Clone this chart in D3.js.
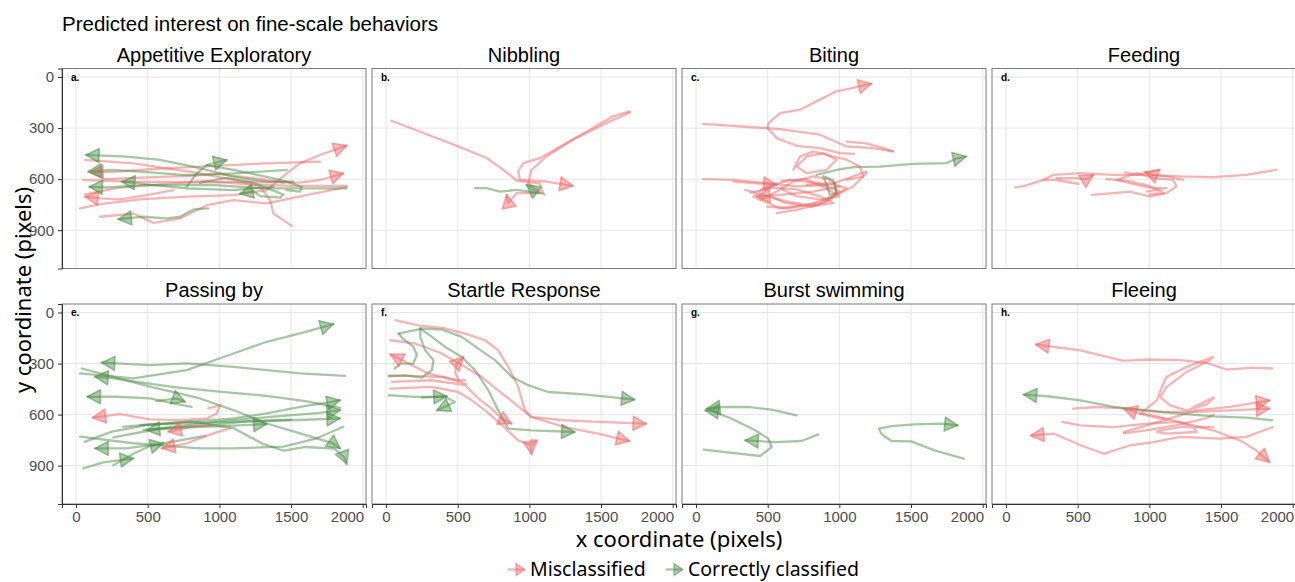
<!DOCTYPE html>
<html>
<head>
<meta charset="utf-8">
<script src="https://cdn.jsdelivr.net/npm/d3@7"></script>
<style>
    body { margin: 0; background: #fff; }
</style>
</head>
<body>
<div id="chart"></div>
<script>
// Facet titles, tags, ticks
const panelTitles = ["Appetitive Exploratory", "Nibbling", "Biting", "Feeding",
    "Passing by", "Startle Response", "Burst swimming", "Fleeing"];
const panelTags = ["a.", "b.", "c.", "d.", "e.", "f.", "g.", "h."];
const xTicks = [0, 500, 1000, 1500, 2000];
const yTicks = [0, 300, 600, 900];
const classes = ["mis", "ok"];
const classLabels = ["Misclassified", "Correctly classified"];

// Tracks: c = classification, a = arrow at end, p = [x, y] in video pixels
const tracksA = [
    {c: "mis", a: 1, p: [[28,772],[167,747],[447,719],[772,703],[1098,694],[1330,664],[1470,566],[1563,507],[1702,458],[1888,403]]},
    {c: "mis", a: 1, p: [[51,605],[400,615],[865,621],[1214,615],[1563,621],[1702,605],[1865,566]]},
    {c: "mis", a: 1, p: [[1702,497],[1330,507],[865,527],[516,542],[284,556],[98,560]]},
    {c: "mis", a: 1, p: [[679,664],[493,694],[307,719],[167,713],[63,703]]},
    {c: "mis", a: 0, p: [[63,487],[400,507],[865,566],[1098,605],[1284,645],[1354,723],[1377,802],[1447,841],[1505,876]]},
    {c: "mis", a: 0, p: [[167,821],[400,802],[540,857],[726,831],[912,753],[1098,723],[1330,743],[1888,645]]},
    {c: "mis", a: 0, p: [[63,690],[300,650],[600,630],[900,610],[1200,630],[1500,640],[1888,640]]},
    {c: "mis", a: 0, p: [[200,600],[500,590],[800,580],[1000,570],[1300,600],[1450,620]]},
    {c: "ok", a: 1, p: [[1516,615],[1330,615],[1098,586],[865,536],[586,487],[353,468],[70,458]]},
    {c: "ok", a: 1, p: [[1470,546],[1098,566],[772,576],[447,556],[237,546],[86,556]]},
    {c: "ok", a: 1, p: [[1377,645],[1098,664],[772,654],[540,635],[400,621],[319,615]]},
    {c: "ok", a: 1, p: [[1888,654],[1563,654],[1284,654],[981,635],[749,635],[470,635],[214,649],[93,645]]},
    {c: "ok", a: 1, p: [[923,772],[819,778],[726,821],[633,831],[470,821],[295,835]]},
    {c: "ok", a: 1, p: [[772,645],[842,566],[912,517],[1051,487]]},
    {c: "ok", a: 1, p: [[865,621],[1051,592],[1237,621],[1354,660],[1447,690],[1423,709],[1284,700],[1237,670],[1144,686]]},
    {c: "ok", a: 0, p: [[912,517],[1098,546],[1330,586],[1470,615],[1574,645],[1563,674],[1470,664]]}
];

const tracksB = [
    {c: "mis", a: 1, p: [[37,257],[216,314],[517,412],[702,476],[818,545],[911,608],[1073,627],[1096,682],[911,682],[853,741],[841,692]]},
    {c: "mis", a: 1, p: [[1699,202],[1583,231],[1444,300],[1258,388],[1073,477],[957,506],[922,555],[934,604],[1119,614],[1304,639]]},
    {c: "mis", a: 0, p: [[1703,208],[1513,280],[1305,369],[1119,467],[1015,545],[992,624],[1073,673],[1107,692]]},
    {c: "ok", a: 1, p: [[621,653],[702,653],[795,673],[911,663],[1073,682],[1030,665],[980,633]]}
];

const tracksC = [
    {c: "mis", a: 1, p: [[1103,451],[1003,447],[864,418],[702,404],[563,359],[498,300],[505,271],[586,212],[725,192],[864,133],[980,84],[1119,59],[1224,39]]},
    {c: "mis", a: 0, p: [[49,275],[586,306],[864,339],[1050,408],[1235,418],[1374,437]]},
    {c: "mis", a: 0, p: [[1050,380],[1189,390],[1305,418],[1374,437]]},
    {c: "mis", a: 0, p: [[49,600],[262,604],[494,624],[702,643],[934,633],[1189,555]]},
    {c: "mis", a: 1, p: [[1003,643],[818,673],[586,692],[424,702]]},
    {c: "mis", a: 1, p: [[262,614],[401,624],[563,633]]},
    {c: "mis", a: 0, p: [[343,663],[586,722],[818,761],[934,722],[1003,673],[864,624],[656,604],[470,653],[401,702],[586,771],[864,741],[1096,643],[1189,565]]},
    {c: "mis", a: 0, p: [[563,800],[702,780],[888,741],[980,682],[957,604],[818,584],[679,614],[563,673],[447,722]]},
    {c: "mis", a: 0, p: [[702,526],[772,467],[888,447],[980,486],[911,545],[772,565],[702,526]]},
    {c: "mis", a: 0, p: [[679,545],[725,467],[818,437],[957,467],[1050,486],[1143,526],[1166,584],[1050,604]]},
    {c: "mis", a: 0, p: [[494,761],[656,771],[818,741],[957,702],[1050,653],[934,624],[772,633]]},
    {c: "mis", a: 0, p: [[380,680],[520,650],[700,660],[860,700],[960,740],[800,760],[620,740],[520,700]]},
    {c: "mis", a: 0, p: [[600,610],[760,600],[900,650],[1000,700],[880,720],[700,700],[600,660]]},
    {c: "ok", a: 1, p: [[841,575],[980,545],[1096,530],[1282,526],[1513,510],[1745,506],[1815,480],[1884,467]]},
    {c: "ok", a: 0, p: [[888,584],[911,633],[934,692],[980,682],[969,624],[922,594],[888,584]]}
];

const tracksD = [
    {c: "mis", a: 0, p: [[65,649],[130,640],[262,604],[331,575],[517,565],[749,575],[980,575],[1212,584],[1444,588],[1676,575],[1884,545]]},
    {c: "mis", a: 0, p: [[262,604],[366,604],[505,628],[450,620],[366,610]]},
    {c: "mis", a: 1, p: [[350,594],[480,594],[560,600],[610,575]]},
    {c: "mis", a: 1, p: [[1235,604],[1119,584],[1027,575],[969,558]]},
    {c: "mis", a: 0, p: [[598,692],[749,682],[864,673],[1003,702],[1119,682],[1189,643],[1166,604],[1027,594],[911,565],[772,604],[911,633],[1027,653],[1119,653],[980,673]]},
    {c: "mis", a: 0, p: [[830,560],[911,575],[1073,545]]},
    {c: "mis", a: 0, p: [[700,600],[850,610],[1000,640],[1100,680],[1003,690]]}
];

const tracksE = [
    {c: "ok", a: 1, p: [[28,358],[400,387],[772,338],[1098,241],[1330,172],[1563,123],[1795,68]]},
    {c: "ok", a: 1, p: [[1877,372],[1563,358],[1098,319],[772,299],[516,309],[179,295]]},
    {c: "ok", a: 1, p: [[40,329],[214,368],[516,436],[865,505],[1098,573],[1330,652],[1563,710],[1795,769],[1842,798]]},
    {c: "ok", a: 1, p: [[1842,560],[1600,520],[1330,490],[1000,465],[700,440],[450,410],[250,385],[133,378]]},
    {c: "ok", a: 1, p: [[807,554],[679,534],[516,505],[284,495],[79,495]]},
    {c: "ok", a: 1, p: [[560,520],[700,505],[760,524]]},
    {c: "ok", a: 1, p: [[330,671],[633,651],[1098,622],[1330,593],[1563,554],[1795,524],[1842,515]]},
    {c: "ok", a: 1, p: [[260,733],[600,680],[1000,640],[1400,610],[1700,590],[1842,573]]},
    {c: "ok", a: 1, p: [[450,660],[800,650],[1200,640],[1600,630],[1842,622]]},
    {c: "ok", a: 1, p: [[470,690],[800,674],[1100,665],[1330,655]]},
    {c: "ok", a: 1, p: [[1500,630],[1200,640],[900,665],[700,675],[493,690]]},
    {c: "ok", a: 1, p: [[900,725],[600,770],[350,798],[133,798]]},
    {c: "ok", a: 1, p: [[51,916],[190,880],[400,857]]},
    {c: "ok", a: 1, p: [[260,898],[400,830],[500,790],[609,769]]},
    {c: "ok", a: 0, p: [[28,729],[400,768],[865,798],[1098,798],[1447,788],[1679,739],[1865,671]]},
    {c: "ok", a: 1, p: [[60,760],[250,700],[500,660],[800,640],[1100,680],[1300,770],[1450,812],[1600,790],[1800,800],[1870,850],[1888,890]]},
    {c: "mis", a: 1, p: [[923,563],[1005,544],[981,593],[912,622],[726,632],[516,628],[307,597],[116,618]]},
    {c: "mis", a: 1, p: [[947,661],[819,671],[644,700]]},
    {c: "mis", a: 1, p: [[1074,681],[958,710],[772,769],[598,798]]}
];

const tracksF = [
    {c: "mis", a: 1, p: [[65,45],[227,75],[413,94],[552,124],[691,163],[783,222],[853,320],[922,437],[969,575],[1015,614],[1247,633],[1479,643],[1815,653]]},
    {c: "mis", a: 1, p: [[30,163],[204,182],[389,241],[552,320],[667,378],[783,457],[899,535],[1015,614],[1247,673],[1479,712],[1699,755]]},
    {c: "mis", a: 1, p: [[30,447],[320,437],[505,467],[598,516],[691,575],[783,643],[922,751],[1015,780],[1050,751],[1015,747],[1010,790],[1015,833]]},
    {c: "mis", a: 1, p: [[42,408],[320,398],[552,427],[645,506],[737,565],[806,624],[876,653]]},
    {c: "mis", a: 1, p: [[505,398],[296,359],[157,300],[30,245]]},
    {c: "mis", a: 1, p: [[552,398],[505,398],[482,349],[494,300],[540,261]]},
    {c: "mis", a: 0, p: [[20,370],[180,372],[400,380],[560,420]]},
    {c: "ok", a: 1, p: [[88,124],[250,94],[389,100],[528,143],[644,212],[760,280],[876,378],[992,427],[1131,467],[1363,480],[1734,512]]},
    {c: "ok", a: 1, p: [[239,94],[320,143],[413,202],[528,261],[621,339],[714,457],[783,575],[853,682],[1015,692],[1316,702]]},
    {c: "ok", a: 0, p: [[19,375],[134,369],[250,382],[320,339],[331,280],[273,222],[239,143],[239,94]]},
    {c: "ok", a: 0, p: [[88,124],[120,155],[190,200],[215,250],[190,300],[100,300],[60,330]]},
    {c: "ok", a: 1, p: [[19,486],[204,496],[413,496],[482,526],[355,575]]},
    {c: "ok", a: 1, p: [[250,500],[350,495],[424,492]]}
];

const tracksG = [
    {c: "ok", a: 1, p: [[702,604],[528,571],[366,555],[204,555],[76,565]]},
    {c: "ok", a: 1, p: [[53,806],[204,820],[447,843],[528,790],[505,741],[413,692],[250,624],[111,579],[65,575]]},
    {c: "ok", a: 1, p: [[853,716],[737,755],[552,761],[343,751]]},
    {c: "ok", a: 1, p: [[1868,859],[1664,810],[1502,757],[1363,755],[1293,712],[1275,682],[1363,667],[1525,657],[1710,653],[1826,663]]}
];

const tracksH = [
    {c: "mis", a: 1, p: [[1857,329],[1723,324],[1538,335],[1399,296],[1214,280],[983,276],[821,284],[520,222],[208,188]]},
    {c: "mis", a: 1, p: [[1861,673],[1676,731],[1491,741],[1214,731],[1029,761],[867,780],[682,830],[520,780],[335,712],[173,722]]},
    {c: "mis", a: 1, p: [[393,643],[520,663],[751,673],[983,653],[1214,643],[1445,692],[1630,751],[1746,810],[1838,879]]},
    {c: "mis", a: 1, p: [[821,702],[983,663],[1214,604],[1329,575],[1561,555],[1838,516]]},
    {c: "mis", a: 1, p: [[467,565],[636,555],[867,565],[1098,584],[1329,584],[1561,575],[1838,565]]},
    {c: "mis", a: 0, p: [[1445,673],[1214,673],[1075,692],[1052,702],[1121,712],[1329,702],[1306,673],[1168,633],[1029,614],[936,594],[1052,516],[1087,437],[1121,378],[1260,320],[1445,261],[1422,280],[1260,349],[1121,437],[1075,496],[1145,545],[1260,575],[1400,540],[1450,500],[1420,510],[1300,560]]},
    {c: "mis", a: 1, p: [[1100,620],[1000,600],[936,594],[821,565]]},
    {c: "mis", a: 0, p: [[821,710],[1000,690],[1200,660],[1400,620],[1450,600]]},
    {c: "ok", a: 1, p: [[1857,633],[1676,618],[1445,610],[1214,594],[983,578],[751,555],[520,516],[289,492],[123,482]]}
];

const panelTracks = [tracksA, tracksB, tracksC, tracksD, tracksE, tracksF, tracksG, tracksH];

// Layout
const W = 1295, H = 582;
const pw = 304, ph = 200;
const lefts = [62, 372, 682, 992];
const tops = [68.5, 304];
const sans = "Liberation Sans, Arial, sans-serif";

const svg = d3.select("#chart").append("svg")
    .attr("width", W)
    .attr("height", H);

const x = d3.scaleLinear().domain([-98, 2023]).range([0, pw]);
const y = d3.scaleLinear().domain([-50, 1125]).range([0, ph]);
const color = d3.scaleOrdinal().domain(classes).range(["#ee6a6a", "#4e8f4a"]);
const line = d3.line().x(d => x(d[0])).y(d => y(d[1]));

// closed arrow head at the end of a track
function arrowHead(p) {
    let e = p[p.length - 1], s = p[p.length - 2];
    let ex = x(e[0]), ey = y(e[1]);
    let a = Math.atan2(ey - y(s[1]), ex - x(s[0]));
    let L = 13, hw = 7;
    let bx = ex - L * Math.cos(a), by = ey - L * Math.sin(a);
    let nx = -Math.sin(a) * hw, ny = Math.cos(a) * hw;
    return `M${ex},${ey}L${bx + nx},${by + ny}L${bx - nx},${by - ny}Z`;
}

// Main title
svg.append("text")
    .attr("x", 62)
    .attr("y", 31)
    .style("font-family", sans)
    .style("font-size", "20.5px")
    .text("Predicted interest on fine-scale behaviors");

panelTracks.forEach((tracks, i) => {
    let col = i % 4, row = Math.floor(i / 4);
    let g = svg.append("g")
        .attr("transform", `translate(${lefts[col]}, ${tops[row]})`);

    // grid lines
    g.selectAll(".gx").data(xTicks).join("line")
        .attr("x1", d => x(d)).attr("x2", d => x(d))
        .attr("y1", 0).attr("y2", ph)
        .attr("stroke", "#e6e6e6");
    g.selectAll(".gy").data(yTicks).join("line")
        .attr("y1", d => y(d)).attr("y2", d => y(d))
        .attr("x1", 0).attr("x2", pw)
        .attr("stroke", "#e6e6e6");

    // trajectories
    g.selectAll(".track").data(tracks).join("path")
        .attr("class", "track")
        .attr("d", d => line(d.p))
        .attr("fill", "none")
        .attr("stroke", d => color(d.c))
        .attr("stroke-width", 2.3)
        .attr("stroke-opacity", 0.5)
        .attr("stroke-linejoin", "round")
        .attr("stroke-linecap", "round");

    g.selectAll(".head").data(tracks.filter(d => d.a)).join("path")
        .attr("class", "head")
        .attr("d", d => arrowHead(d.p))
        .attr("fill", d => color(d.c))
        .attr("fill-opacity", 0.45)
        .attr("stroke", d => color(d.c))
        .attr("stroke-opacity", 0.55)
        .attr("stroke-width", 1.6)
        .attr("stroke-linejoin", "round");

    // panel border
    g.append("rect")
        .attr("width", pw).attr("height", ph)
        .attr("fill", "none")
        .attr("stroke", "#7a7a7a");

    // tag
    g.append("text")
        .attr("x", 9).attr("y", 12)
        .style("font-family", sans)
        .style("font-size", "10px")
        .style("font-weight", "bold")
        .text(panelTags[i]);

    // strip title
    svg.append("text")
        .attr("x", lefts[col] + pw / 2)
        .attr("y", tops[row] - 7)
        .attr("text-anchor", "middle")
        .style("font-family", sans)
        .style("font-size", "20px")
        .text(panelTitles[i]);

    // axes
    if (col === 0) {
        let ya = g.append("g")
            .call(d3.axisLeft(y).tickValues(yTicks).tickFormat(d3.format("d")).tickSize(4).tickPadding(4));
        ya.selectAll("text").style("font-size", "15px").attr("fill", "#4d4d4d")
            .style("font-family", sans);
        ya.selectAll("line").attr("stroke", "#333");
        ya.select(".domain").attr("stroke", "#333");
    }
    if (row === 1) {
        let xa = g.append("g")
            .attr("transform", `translate(0, ${ph})`)
            .call(d3.axisBottom(x).tickValues(xTicks).tickFormat(d3.format("d")).tickSize(4).tickPadding(3));
        xa.selectAll("text").style("font-size", "15px").attr("fill", "#4d4d4d")
            .style("font-family", sans);
        // last label sits flush against its tick so it does not run into the next panel
        xa.selectAll(".tick").filter(d => d === xTicks[xTicks.length - 1]).select("text")
            .attr("text-anchor", "end").attr("x", 1);
        xa.selectAll("line").attr("stroke", "#333");
        xa.select(".domain").attr("stroke", "#333");
    }
});

// Axis titles
svg.append("text")
    .attr("x", 679)
    .attr("y", 547)
    .attr("text-anchor", "middle")
    .style("font-family", "Noto Sans, sans-serif")
    .style("font-size", "22px")
    .text("x coordinate (pixels)");

svg.append("text")
    .attr("transform", "translate(31, 290) rotate(-90)")
    .attr("text-anchor", "middle")
    .style("font-family", "Noto Sans, sans-serif")
    .style("font-size", "22px")
    .text("y coordinate (pixels)");

// Legend
let legendX = [508, 666];
classes.forEach((cls, i) => {
    let lg = svg.append("g").attr("transform", `translate(${legendX[i]}, 569.5)`);
    lg.append("line")
        .attr("x1", 0).attr("x2", 16).attr("y1", 0).attr("y2", 0)
        .attr("stroke", color(cls)).attr("stroke-width", 2.3).attr("stroke-opacity", 0.5);
    lg.append("path")
        .attr("d", "M17,0L8,-6L8,6Z")
        .attr("fill", color(cls)).attr("fill-opacity", 0.45)
        .attr("stroke", color(cls)).attr("stroke-opacity", 0.55).attr("stroke-width", 1.4);
    lg.append("text")
        .attr("x", 22).attr("y", 6.5)
        .style("font-family", "Noto Sans, sans-serif")
        .style("font-size", "19.5px")
        .text(classLabels[i]);
});
</script>
</body>
</html>
